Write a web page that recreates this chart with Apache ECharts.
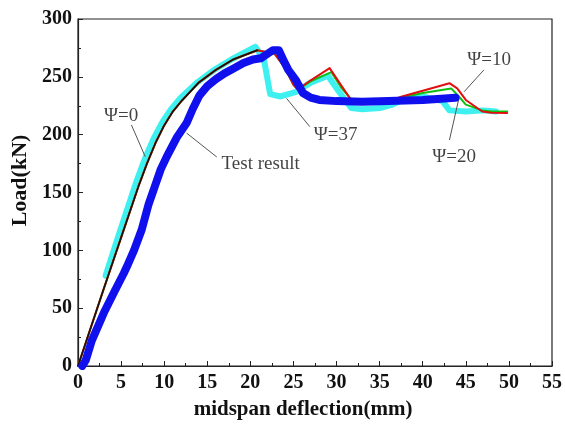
<!DOCTYPE html>
<html>
<head>
<meta charset="utf-8">
<script src="https://cdn.jsdelivr.net/npm/echarts@6/dist/echarts.min.js"></script>
<style>
  html, body { margin: 0; padding: 0; background: #fff; }
  #chart { width: 565px; height: 425px; }
</style>
</head>
<body>
<div id="chart"></div>
<script>
// load-deflection curves, [deflection mm, load kN]
const testResult = [[0.5,0],[0.9,5],[1.6,22],[3,46],[4.2,64],[5.3,80],[5.8,88],[6.5,100],[7.4,118],[8.2,140],[8.9,155],[9.6,170],[10.3,181],[11.5,198],[12.6,210],[13.3,222],[14.1,234],[15,242],[16,248],[17,253],[18,257],[19.2,262],[20.3,265],[21.2,266],[22,270],[22.6,273],[23.3,273],[23.8,265],[24.4,256],[25.3,247],[26.1,236],[27,232],[28,230],[30,229],[33,228.5],[36,229],[40,230],[43.8,232]]
const psi0 = [[0,0],[3,67],[5,111],[7,155],[8,175],[9,193],[10,208],[11,220],[12,229],[13,237],[14,245],[16,256],[18,265],[20.8,273]]
const psi10 = [[0,0],[3,67],[5,111],[7,155],[8,175],[9,193],[10,208],[11,220],[12,229],[13,237],[14,245],[16,256],[18,265],[20.8,273],[22.8,270],[24,258],[25,243],[25.5,239],[27,247],[29.2,257.5],[30.5,243],[31.7,230],[33,228],[36,229],[37.6,233],[40,238],[43.1,244.5],[44,240],[45,230],[46.9,220],[48,219],[49.8,218.7]]
const psi20 = [[0,0],[3,67],[5,111],[7,155],[8,175],[9,193],[10,208],[11,220],[12,229],[13,237],[14,245],[16,256],[18,265],[20.8,273],[22.8,270],[24,258],[25,243],[25.5,239],[27,246],[29.4,254],[30.6,240],[32,228],[36,229],[37.5,232],[40,236],[43.3,240],[44.2,233],[45,226],[46.9,221],[48,220],[49.8,220]]
const psi37 = [[3.2,78],[4.8,115],[6.8,160],[7.8,180],[8.8,197],[9.8,211],[10.8,222],[11.8,231],[13.8,245],[15.8,256],[17.8,265],[20.6,276],[21.6,264],[22.3,235],[23.5,233],[25.3,237],[27,245],[29,251],[30.2,238],[31.7,223],[33,222],[35,223],[36.5,226],[38,231],[40,233],[42.3,229],[43.1,221],[45,220],[47,221],[48.5,220]]

// annotation text [x, y, label] and leader lines [x1, y1, x2, y2]
const notes = [[5.0,216,'Ψ=0'],[21.2,174.6,'Test result'],[29.9,199.7,'Ψ=37'],[47.7,264.5,'Ψ=10'],[43.65,180.3,'Ψ=20']]
const leaders = [[6.2,208.4,7.8,181],[12.6,201.4,16.1,180.7],[26.9,206.9,24.2,231.4],[47.1,256,44.8,237.1],[43.1,195.4,44.2,231.4]]

const serif = '"Liberation Serif", "Times New Roman", serif'

const chart = echarts.init(document.getElementById('chart'))

function curve(name, data, color, width, z) {
  return {
    name: name,
    type: 'line',
    data: data,
    symbol: 'none',
    smooth: false,
    z: z,
    lineStyle: { color: color, width: width, join: 'round', cap: 'round' },
    animation: false
  }
}

chart.setOption({
  backgroundColor: '#fff',
  textStyle: { fontFamily: serif },
  grid: {
    left: 78,
    right: 12,
    top: 19,
    bottom: 59,
    show: true,
    borderColor: '#222',
    borderWidth: 1.2
  },
  xAxis: {
    type: 'value',
    min: 0,
    max: 55,
    interval: 5,
    name: 'midspan deflection(mm)',
    nameLocation: 'middle',
    nameGap: 33,
    nameTextStyle: { fontFamily: serif, fontSize: 21, fontWeight: 'bold', color: '#111', padding: [0, 24, 0, 0] },
    axisLine: { lineStyle: { color: '#222', width: 1.2 } },
    axisTick: { inside: true, length: 5, lineStyle: { color: '#222' } },
    minorTick: { show: true, splitNumber: 2, length: 3, lineStyle: { color: '#222' } },
    axisLabel: { fontFamily: serif, fontSize: 20, fontWeight: 'bold', color: '#111', margin: 7 },
    splitLine: { show: false }
  },
  yAxis: {
    type: 'value',
    min: 0,
    max: 300,
    interval: 50,
    name: 'Load(kN)',
    nameLocation: 'middle',
    nameGap: 47,
    nameRotate: 90,
    nameTextStyle: { fontFamily: serif, fontSize: 22, fontWeight: 'bold', color: '#111', padding: [0, 0, 0, 24] },
    axisLine: { show: true, lineStyle: { color: '#222', width: 1.2 } },
    axisTick: { show: true, inside: true, length: 5, lineStyle: { color: '#222' } },
    minorTick: { show: true, splitNumber: 2, length: 3, lineStyle: { color: '#222' } },
    axisLabel: { fontFamily: serif, fontSize: 20, fontWeight: 'bold', color: '#111', margin: 6 },
    splitLine: { show: false }
  },
  series: [
    curve('Ψ=37', psi37, '#3ef0f0', 6, 2),
    curve('Ψ=20', psi20, '#10c010', 2, 3),
    curve('Ψ=10', psi10, '#e01010', 2, 3),
    curve('Ψ=0', psi0, '#111', 1.5, 4),
    curve('Test result', testResult, '#1010ee', 8, 5),
    {
      name: 'notes',
      type: 'scatter',
      symbolSize: 0,
      z: 6,
      animation: false,
      silent: true,
      data: notes.map(n => ({ value: [n[0], n[1]], name: n[2] })),
      label: {
        show: true,
        position: 'inside',
        formatter: p => p.name,
        fontFamily: serif,
        fontSize: 19,
        color: '#111'
      },
      markLine: {
        silent: true,
        symbol: 'none',
        animation: false,
        label: { show: false },
        lineStyle: { color: '#555', width: 1, type: 'solid' },
        data: leaders.map(l => [{ coord: [l[0], l[1]] }, { coord: [l[2], l[3]] }])
      }
    }
  ]
})
</script>
</body>
</html>
